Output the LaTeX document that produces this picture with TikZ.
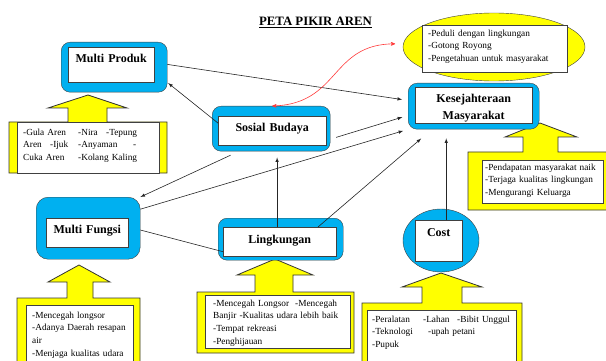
\documentclass[tikz,border=0pt]{standalone}
\usepackage{fontspec}
\setmainfont{Liberation Serif}
\usetikzlibrary{arrows,shapes.geometric}
\definecolor{skyblue}{HTML}{00B0F0}
\definecolor{lemon}{HTML}{FFFF00}
\definecolor{redline}{HTML}{FF3B3B}
\tikzset{
    bluebox/.style={draw=black!75,fill=skyblue,rounded corners=9pt,inner sep=0pt,anchor=north west},
    blueoval/.style={ellipse,draw=black!75,fill=skyblue,inner sep=0pt},
    yellowoval/.style={ellipse,draw=black!75,fill=lemon,inner sep=0pt},
    titlebox/.style={draw=black!75,fill=white,inner sep=0pt,anchor=north west,align=center,font=\fontsize{12}{17}\selectfont\bfseries},
    notebox/.style={draw=black!75,fill=white,inner ysep=0pt,anchor=north west,align=left,font=\fontsize{9.3}{12.6}\selectfont},
    callout/.style={draw=black!80,fill=lemon,line width=0.8pt},
    conn/.style={->,>=latex,black!85,line width=0.6pt},
    link/.style={black!85,line width=0.6pt},
    twoway/.style={<->,>=stealth',redline,line width=0.6pt}
}
\begin{document}
\begin{tikzpicture}[x=1pt,y=-1pt]
\useasboundingbox (0,0) rectangle (606,361);
\clip (0,0) rectangle (606,361);
\node[anchor=base,font=\fontsize{12.8}{14}\selectfont\bfseries] (judul) at (315.5,26) {\underline{PETA PIKIR AREN}};
\node[yellowoval,minimum width=182pt,minimum height=68pt] (elp) at (494,47) {};
\node[notebox,inner xsep=6pt,text width=133pt,text height=11pt,text depth=36pt] (eltx) at (422,25) {-Peduli dengan lingkungan\\-Gotong Royong\\-Pengetahuan untuk masyarakat};
\draw[callout] (9,122)--(68,122)--(68,108)--(48,108)--(88,95)--(127,108)--(107,108)--(107,122)--(167,122)--(167,173)--(9,173)--cycle;
\draw[callout] (17,298)--(67,298)--(67,282)--(48,282)--(79,265)--(110,282)--(93,282)--(93,298)--(140,298)--(140,370)--(17,370)--cycle;
\draw[callout] (197,292)--(255,292)--(255,275)--(237,275)--(275,259)--(313,275)--(293,275)--(293,292)--(354,292)--(354,353)--(197,353)--cycle;
\draw[callout] (362,303)--(422,303)--(422,287)--(402,287)--(441,273)--(482,287)--(462,287)--(462,303)--(522,303)--(522,370)--(362,370)--cycle;
\draw[callout] (468,152)--(523,152)--(523,137)--(505,137)--(540,123)--(577,137)--(558,137)--(558,152)--(610,152)--(610,210)--(468,210)--cycle;
\node[notebox,inner xsep=6pt,text width=130pt,text height=13pt,text depth=38pt] (mptx) at (17,122) {\makebox[55pt][l]{-Gula Aren}\makebox[28pt][l]{-Nira}-Tepung\\\makebox[27pt][l]{Aren}\makebox[28pt][l]{-Ijuk}\makebox[55pt][l]{-Anyaman}-\\\makebox[55pt][l]{Cuka Aren}-Kolang Kaling};
\node[notebox,inner xsep=6pt,text width=95pt,text height=13pt,text depth=52pt] (mftx) at (26,305) {-Mencegah longsor\\-Adanya Daerah resapan\\air\\-Menjaga kualitas udara};
\node[notebox,inner xsep=8pt,text width=129pt,text height=11pt,text depth=42pt] (lktx) at (205,295) {\makebox[82pt][l]{-Mencegah Longsor}-Mencegah\\Banjir -Kualitas udara lebih baik\\-Tempat rekreasi\\-Penghijauan};
\node[notebox,inner xsep=5pt,text width=139pt,text height=12pt,text depth=48pt] (cstx) at (367,310) {\makebox[51pt][l]{-Peralatan}\makebox[34pt][l]{-Lahan}-Bibit Unggul\\\makebox[56pt][l]{-Teknologi}-upah petani\\-Pupuk};
\node[notebox,inner xsep=3pt,text width=115pt,text height=10pt,text depth=33pt] (kmtx) at (482,160) {-Pendapatan masyarakat naik\\-Terjaga kualitas lingkungan\\-Mengurangi Keluarga};
\node[bluebox,minimum width=106pt,minimum height=50pt] (mpo) at (61,42) {};
\node[titlebox,text width=86pt,text height=15pt,text depth=20pt] (mp) at (68,47) {Multi Produk};
\node[bluebox,minimum width=118pt,minimum height=45pt] (sbo) at (212,106) {};
\node[titlebox,text width=108pt,text height=15pt,text depth=14pt] (sb) at (218,116) {Sosial Budaya};
\node[bluebox,minimum width=131pt,minimum height=46pt] (kmo) at (408,83) {};
\node[titlebox,text width=117pt,text height=15pt,text depth=21pt] (km) at (415,87) {Kesejahteraan\\Masyarakat};
\node[bluebox,rounded corners=12pt,minimum width=104pt,minimum height=62pt] (mfo) at (36,197) {};
\node[titlebox,text width=82pt,text height=15pt,text depth=14pt] (mf) at (46,218) {Multi Fungsi};
\node[bluebox,minimum width=125pt,minimum height=42pt] (lko) at (218,218) {};
\node[titlebox,text width=113pt,text height=16pt,text depth=13pt] (lk) at (223,227) {Lingkungan};
\node[blueoval,minimum width=76pt,minimum height=63pt] (co) at (441,240.5) {};
\node[titlebox,text width=47pt,text height=16pt,text depth=25pt] (cs) at (415,220) {Cost};
\draw[conn,shorten >=6pt] (mpo.3)--(kmo.175);
\draw[conn,shorten >=1pt] (sb.172)--(mpo.-16);
\draw[conn,shorten <=6pt,shorten >=6pt] (sbo.-10)--(kmo.188);
\draw[conn,shorten <=9pt] (sbo.215)--(mfo.north east);
\draw[conn,shorten >=5pt] (mfo.20)--(kmo.south west);
\draw[link] (mfo.-2)--(lk.190);
\draw[conn,shorten >=6pt] (lk.100)--(sbo.south -| lk.100);
\draw[conn,shorten >=14pt] (lk.21)--(kmo.209);
\draw[conn,shorten >=9pt] (cs.70)--(kmo.south -| cs.70);
\draw[twoway,shorten <=1pt,shorten >=8pt] (sbo.north) .. controls (340,104) and (330,44) .. (elp.178);
\end{tikzpicture}
\end{document}
